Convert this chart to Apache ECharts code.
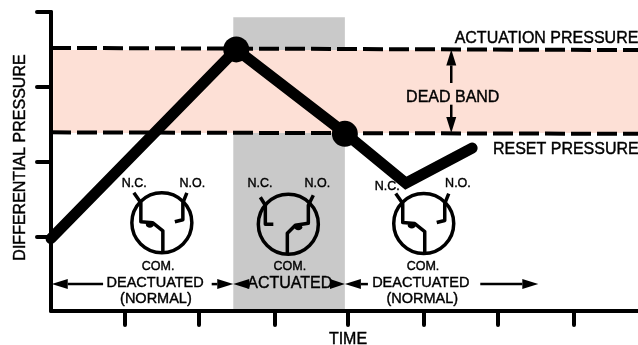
<!DOCTYPE html>
<html>
<head>
<meta charset="utf-8">
<style>
  html, body { margin: 0; padding: 0; background: #fff; }
  #chart { width: 638px; height: 345px; }
</style>
<script src="https://cdn.jsdelivr.net/npm/echarts@6/dist/echarts.min.js"></script>
</head>
<body>
<div id="chart"></div>
<script>
// pressure trace
const pressureTime = [0, 2.49, 3.95, 4.77, 5.66]
const pressureValue = [0.97, 3.5, 2.38, 1.71, 2.18]
const switchPoints = [[2.49, 3.5], [3.95, 2.37]]

// thresholds, read at both ends of the plot
const thresholdTime = [0, 7.89]
const actuationLine = [3.52, 3.49]
const resetLine = [2.39, 2.37]

// shaded regions [x0, x1, y0, y1]
const actuatedBand = [2.45, 3.95, 0, 3.93]
const deadBand = [0.03, 7.89, 2.38, 3.49]

const xTicks = [0.99, 1.98, 3.01, 3.99, 5.01, 6.01, 7.02]
const yTicks = [1, 2, 3, 4]

// [text, x, y]
const largeLabels = [
    ['ACTUATION PRESSURE', 6.66, 3.65],
    ['DEAD BAND', 5.40, 2.86],
    ['RESET PRESSURE', 6.92, 2.155],
    ['ACTUATED', 3.21, 0.36]
]
const stateLabels = [
    ['DEACTUATED', 1.40, 0.37],
    ['(NORMAL)', 1.41, 0.16],
    ['DEACTUATED', 4.97, 0.37],
    ['(NORMAL)', 4.99, 0.16]
]
const smallLabels = [
    ['N.C.', 1.12, 1.71], ['N.O.', 1.90, 1.71],
    ['N.C.', 2.81, 1.71], ['N.O.', 3.58, 1.71],
    ['N.C.', 4.52, 1.66], ['N.O.', 5.47, 1.71],
    ['COM.', 1.44, 0.60], ['COM.', 3.21, 0.60], ['COM.', 5.00, 0.60]
]

// [x0, y0, x1, y1], head is at x1,y1
const arrows = [
    [0.70, 0.36, 0.01, 0.36],
    [2.16, 0.36, 2.45, 0.36],
    [2.67, 0.36, 2.45, 0.36],
    [3.75, 0.36, 3.95, 0.36],
    [4.26, 0.36, 3.95, 0.36],
    [5.77, 0.36, 6.55, 0.36],
    [5.38, 3.05, 5.38, 3.5],
    [5.38, 2.76, 5.38, 2.38]
]

// [x, y, actuated]
const switches = [
    [1.49, 1.18, false],
    [3.19, 1.16, true],
    [5.01, 1.17, false]
]

// contact drawings, pixel offsets from the circle centre
const normalContacts = [
    [[-28, -30], [-21, -20], [-21, -1], [-9, 0], [1, 8], [1, 29]],
    [[25, -30], [21, -20], [21, -3], [13, -1]]
]
const actuatedContacts = [
    [[-28, -27], [-23, -19], [-23, 0], [-15, 0]],
    [[25, -29], [20, -19], [20, -1], [7, 1], [-1, 9], [-1, 29]]
]

const FONT = '"Liberation Sans", Arial, sans-serif'

const bandSeries = (band, color, z) => ({
    type: 'custom',
    silent: true,
    z: z,
    data: [band],
    renderItem: (params, api) => {
        const a = api.coord([band[0], band[3]])
        const b = api.coord([band[1], band[2]])
        return { type: 'rect', shape: { x: a[0], y: a[1], width: b[0] - a[0], height: b[1] - a[1] }, style: { fill: color } }
    }
})

const labelSeries = (labels, size) => ({
    type: 'custom',
    silent: true,
    z: 8,
    data: labels.map(l => [l[1], l[2]]),
    renderItem: (params, api) => {
        const l = labels[params.dataIndex]
        const p = api.coord([l[1], l[2]])
        return {
            type: 'text',
            style: {
                text: l[0], x: p[0], y: p[1], fill: '#000', stroke: '#000', lineWidth: 0.4,
                font: size + 'px ' + FONT, align: 'center', verticalAlign: 'middle'
            }
        }
    }
})

const renderArrow = (params, api) => {
    const a = arrows[params.dataIndex]
    const p0 = api.coord([a[0], a[1]])
    const p1 = api.coord([a[2], a[3]])
    const len = Math.hypot(p1[0] - p0[0], p1[1] - p0[1])
    const ux = (p1[0] - p0[0]) / len
    const uy = (p1[1] - p0[1]) / len
    const headLen = Math.min(16, len)
    const bx = p1[0] - ux * headLen
    const by = p1[1] - uy * headLen
    return {
        type: 'group',
        children: [
            { type: 'line', shape: { x1: p0[0], y1: p0[1], x2: bx, y2: by }, style: { stroke: '#000', lineWidth: 2.5 } },
            {
                type: 'polygon',
                shape: { points: [[p1[0], p1[1]], [bx - uy * 5, by + ux * 5], [bx + uy * 5, by - ux * 5]] },
                style: { fill: '#000' }
            }
        ]
    }
}

const renderSwitch = (params, api) => {
    const s = switches[params.dataIndex]
    const c = api.coord([s[0], s[1]])
    const contacts = s[2] ? actuatedContacts : normalContacts
    const children = [{
        type: 'circle',
        shape: { cx: c[0], cy: c[1], r: 30 },
        style: { fill: 'none', stroke: '#000', lineWidth: 3.5 }
    }]
    contacts.forEach(path => {
        children.push({
            type: 'polyline',
            shape: { points: path.map(o => [c[0] + o[0], c[1] + o[1]]) },
            style: { fill: 'none', stroke: '#000', lineWidth: 3.5, lineJoin: 'round' }
        })
    })
    // pivot blob on the moving contact
    const blob = s[2] ? [10, 3] : [-12, 2]
    children.push({ type: 'ellipse', shape: { cx: c[0] + blob[0], cy: c[1] + blob[1], rx: 4, ry: 3 }, style: { fill: '#000' } })
    return { type: 'group', children: children }
}

const dashedLine = (values) => ({
    type: 'line',
    silent: true,
    z: 4,
    symbol: 'none',
    data: thresholdTime.map((t, i) => [t, values[i]]),
    lineStyle: { color: '#000', width: 4, type: [20, 6] }
})

const axisName = { color: '#000', fontSize: 16, fontFamily: FONT, textBorderColor: '#000', textBorderWidth: 0.4 }

const option = {
    animation: false,
    backgroundColor: '#fff',
    grid: { left: 51, right: 0, top: 12, bottom: 34, outerBoundsMode: 'none' },
    xAxis: {
        type: 'value',
        min: 0,
        max: 7.89,
        z: 10,
        name: 'TIME',
        nameLocation: 'middle',
        nameGap: 21,
        nameTextStyle: { ...axisName, padding: [0, 0, 0, 7] },
        axisLine: { lineStyle: { color: '#000', width: 4, cap: 'round' } },
        axisTick: { show: true, customValues: xTicks, length: 14, lineStyle: { color: '#000', width: 4, cap: 'round' } },
        axisLabel: { show: false },
        splitLine: { show: false }
    },
    yAxis: {
        type: 'value',
        min: 0,
        max: 4,
        z: 10,
        name: 'DIFFERENTIAL PRESSURE',
        nameLocation: 'middle',
        nameGap: 22,
        nameTextStyle: { ...axisName, padding: [0, 0, 0, 8] },
        axisLine: { lineStyle: { color: '#000', width: 4, cap: 'round' } },
        axisTick: { show: true, customValues: yTicks, length: 14, lineStyle: { color: '#000', width: 4, cap: 'round' } },
        axisLabel: { show: false },
        splitLine: { show: false }
    },
    series: [
        bandSeries(actuatedBand, '#c9c9c9', 1),
        bandSeries(deadBand, '#fde0d6', 2),
        dashedLine(actuationLine),
        dashedLine(resetLine),
        {
            type: 'line',
            silent: true,
            z: 6,
            symbol: 'none',
            data: pressureTime.map((t, i) => [t, pressureValue[i]]),
            lineStyle: { color: '#000', width: 11, cap: 'round', join: 'miter' }
        },
        {
            type: 'scatter',
            silent: true,
            z: 7,
            symbolSize: 26,
            data: switchPoints,
            itemStyle: { color: '#000', opacity: 1 }
        },
        { type: 'custom', silent: true, z: 6, data: switches.map(s => [s[0], s[1]]), renderItem: renderSwitch },
        { type: 'custom', silent: true, z: 6, data: arrows.map(a => [a[0], a[1]]), renderItem: renderArrow },
        labelSeries(largeLabels, 16),
        labelSeries(stateLabels, 14.5),
        labelSeries(smallLabels, 12.5)
    ]
}

const chart = echarts.init(document.getElementById('chart'), null, { renderer: 'canvas' })
chart.setOption(option)
</script>
</body>
</html>
